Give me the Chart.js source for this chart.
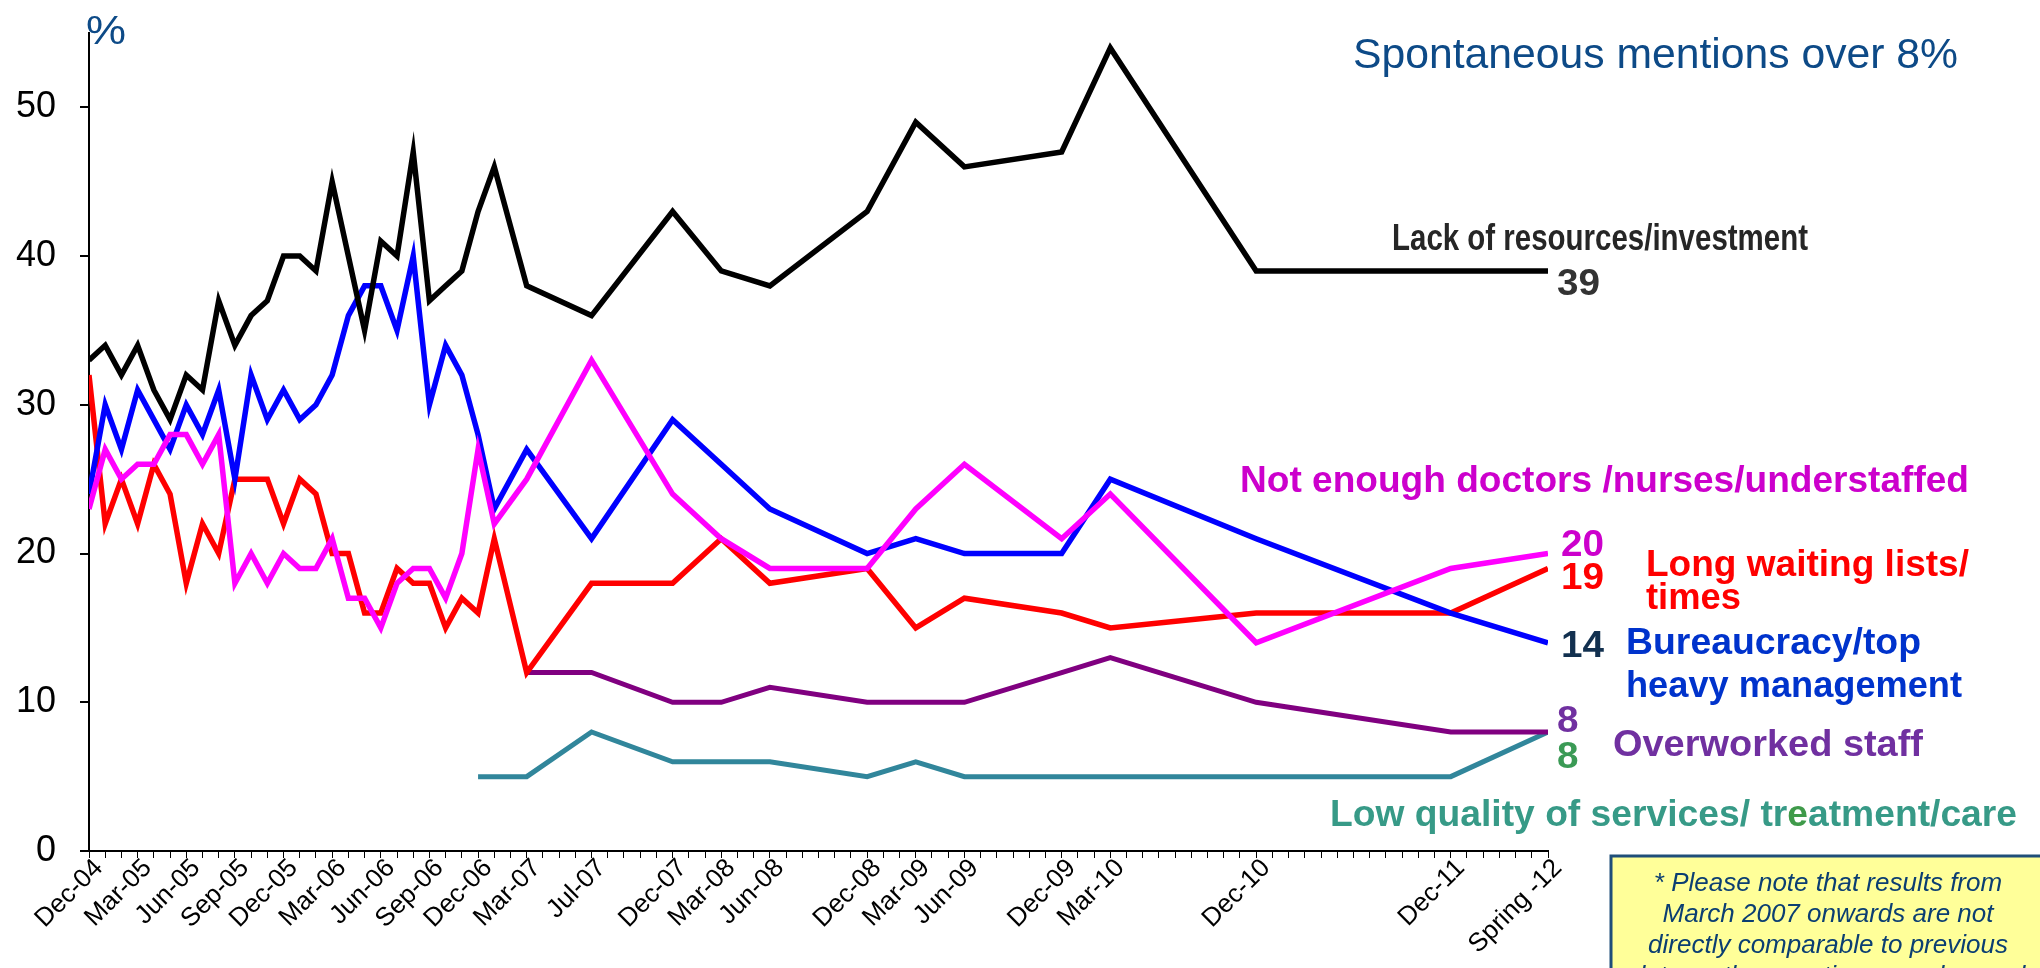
<!DOCTYPE html>
<html>
<head>
<meta charset="utf-8">
<script src="https://cdn.jsdelivr.net/npm/chart.js@4.4.1/dist/chart.umd.min.js"></script>
<style>
  html, body { margin: 0; padding: 0; background: #fff; }
  #wrap { position: relative; width: 2040px; height: 968px; }
</style>
</head>
<body>
<div id="wrap"><canvas id="issuesChart"></canvas></div>
<script>
// survey waves, counted in months from December 2004
const waveMonths = [0, 1, 2, 3, 4, 5, 6, 7, 8, 9, 10, 11, 12, 13, 14, 15, 16, 17, 18, 19, 20, 21, 22, 23, 24, 25,
  27, 31, 36, 39, 42, 48, 51, 54, 60, 63, 72, 84, 90];

// months that get a label on the x axis
const axisMonths = [0, 3, 6, 9, 12, 15, 18, 21, 24, 27, 31, 36, 39, 42, 48, 51, 54, 60, 63, 72, 84, 90];
const axisLabels = ['Dec-04', 'Mar-05', 'Jun-05', 'Sep-05', 'Dec-05', 'Mar-06', 'Jun-06', 'Sep-06', 'Dec-06',
  'Mar-07', 'Jul-07', 'Dec-07', 'Mar-08', 'Jun-08', 'Dec-08', 'Mar-09', 'Jun-09', 'Dec-09', 'Mar-10',
  'Dec-10', 'Dec-11', 'Spring -12'];

const yTicks = [0, 10, 20, 30, 40, 50];

// % mentioning each issue, one value per wave
const lackOfResources = [33, 34, 32, 34, 31, 29, 32, 31, 37, 34, 36, 37, 40, 40, 39, 45, 40, 35, 41, 40, 47, 37, 38, 39, 43, 46,
  38, 36, 43, 39, 38, 43, 49, 46, 47, 54, 39, 39, 39];
const notEnoughStaff = [23, 27, 25, 26, 26, 28, 28, 26, 28, 18, 20, 18, 20, 19, 19, 21, 17, 17, 15, 18, 19, 19, 17, 20, 27, 22,
  25, 33, 24, 21, 19, 19, 23, 26, 21, 24, 14, 19, 20];
const bureaucracy = [24, 30, 27, 31, 29, 27, 30, 28, 31, 25, 32, 29, 31, 29, 30, 32, 36, 38, 38, 35, 40, 30, 34, 32, 28, 23,
  27, 21, 29, 26, 23, 20, 21, 20, 20, 25, 21, 16, 14];
const waitingLists = [32, 22, 25, 22, 26, 24, 18, 22, 20, 25, 25, 25, 22, 25, 24, 20, 20, 16, 16, 19, 18, 18, 15, 17, 16, 21,
  12, 18, 18, 21, 18, 19, 15, 17, 16, 15, 16, 16, 19];
const overworked = [null, null, null, null, null, null, null, null, null, null, null, null, null, null, null, null, null, null,
  null, null, null, null, null, null, null, null,
  12, 12, 10, 10, 11, 10, 10, 10, 12, 13, 10, 8, 8];
const lowQuality = [null, null, null, null, null, null, null, null, null, null, null, null, null, null, null, null, null, null,
  null, null, null, null, null, null, 5, null,
  5, 8, 6, 6, 6, 5, 6, 5, 5, 5, 5, 5, 8];

const toPoints = values => values.map((v, i) => ({ x: waveMonths[i], y: v }));

const FONT = '"Liberation Sans", Arial, sans-serif';
const NARROW = '"Liberation Sans Narrow", "Liberation Sans", Arial, sans-serif';

const series = [
  { data: lackOfResources, color: '#000000', width: 5.5, num: '#333333', dx: 9, dy: 24 },
  { data: notEnoughStaff, color: '#ff00ff', width: 5.5, num: '#cc00cc', dx: 13, dy: 2 },
  { data: bureaucracy, color: '#0000ff', width: 5.5, num: '#12304f', dx: 13, dy: 14 },
  { data: waitingLists, color: '#ff0000', width: 5.5, num: '#ff0000', dx: 13, dy: 21 },
  { data: overworked, color: '#800080', width: 5, num: '#7030a0', dx: 9, dy: 0 },
  { data: lowQuality, color: '#31869b', width: 5, num: '#3a9a55', dx: 9, dy: 36 }
];

// draw a run of coloured pieces squeezed to a given width
function fitText(ctx, parts, x, y, font, width) {
  ctx.save();
  ctx.font = font;
  ctx.textBaseline = 'alphabetic';
  ctx.textAlign = 'left';
  const whole = parts.map(p => p[0]).join('');
  const sx = width ? width / ctx.measureText(whole).width : 1;
  ctx.translate(x, y);
  ctx.scale(sx, 1);
  let cx = 0;
  parts.forEach(([t, c]) => {
    ctx.fillStyle = c;
    ctx.fillText(t, cx, 0);
    cx += ctx.measureText(t).width;
  });
  ctx.restore();
}

const textLayer = {
  id: 'textLayer',
  afterDraw(chart) {
    const { ctx } = chart;
    const xs = chart.scales.x, ys = chart.scales.y;

    fitText(ctx, [['%', '#0d4a87']], 86, 44, '40px ' + FONT, 40);
    fitText(ctx, [['Spontaneous mentions over 8%', '#0d4a87']], 1353, 68, '42px ' + FONT, 605);

    const bold = 'bold 36px ' + NARROW;
    fitText(ctx, [['Lack of resources/investment', '#262626']], 1392, 250, bold, 416);
    fitText(ctx, [['Not enough doctors /nurses/understaffed', '#cc00cc']], 1240, 492, bold, 729);
    fitText(ctx, [['Long waiting lists/', '#ff0000']], 1646, 576, bold, 323);
    fitText(ctx, [['times', '#ff0000']], 1646, 609, bold, 95);
    fitText(ctx, [['Bureaucracy/top', '#0033cc']], 1626, 654, bold, 295);
    fitText(ctx, [['heavy management', '#0033cc']], 1626, 697, bold, 336);
    fitText(ctx, [['Overworked staff', '#7030a0']], 1613, 756, bold, 310);
    fitText(ctx, [['Low quality of services/ tr', '#379a87'], ['e', '#3f9a4a'], ['atment/care', '#379a87']],
      1330, 826, bold, 687);

    // end-of-line values
    series.forEach(s => {
      const last = s.data[s.data.length - 1];
      const px = xs.getPixelForValue(waveMonths[waveMonths.length - 1]) + s.dx;
      const py = ys.getPixelForValue(last) + s.dy;
      const txt = String(last);
      fitText(ctx, [[txt, s.num]], px, py, bold, txt.length * 21.5);
    });

    // footnote box
    ctx.save();
    ctx.fillStyle = '#ffff99';
    ctx.fillRect(1611, 856, 470, 140);
    ctx.strokeStyle = '#1f4e79';
    ctx.lineWidth = 3;
    ctx.strokeRect(1611, 856, 470, 140);
    ctx.fillStyle = '#0b3e72';
    ctx.font = 'italic 26px ' + FONT;
    ctx.textAlign = 'center';
    ctx.textBaseline = 'alphabetic';
    ['* Please note that results from', 'March 2007 onwards are not', 'directly comparable to previous',
      'data as the question was changed'].forEach((line, i) => {
      ctx.fillText(line, 1828, 891 + i * 31);
    });
    ctx.restore();
  }
};

new Chart(document.getElementById('issuesChart'), {
  type: 'line',
  data: {
    datasets: series.map(s => ({
      data: toPoints(s.data),
      borderColor: s.color,
      backgroundColor: s.color,
      borderWidth: s.width,
      pointRadius: 0,
      tension: 0,
      spanGaps: true,
      fill: false
    }))
  },
  options: {
    responsive: true,
    maintainAspectRatio: false,
    animation: false,
    layout: { padding: { left: 0, top: 33, right: 492, bottom: 0 } },
    plugins: { legend: { display: false }, tooltip: { enabled: false } },
    scales: {
      x: {
        type: 'linear',
        min: 0,
        max: 90,
        afterBuildTicks: s => {
          const t = [];
          for (let m = 0; m <= 90; m++) t.push({ value: m });
          s.ticks = t;
        },
        afterFit: s => { s.height = 117; },
        border: { color: '#000', width: 2 },
        grid: { drawOnChartArea: false, drawTicks: true, tickLength: 7, color: '#000', lineWidth: 1 },
        ticks: {
          autoSkip: false,
          maxRotation: 45,
          minRotation: 45,
          padding: -5,
          labelOffset: 10,
          color: '#000',
          font: { family: FONT, size: 26 },
          callback: v => {
            const i = axisMonths.indexOf(v);
            return i < 0 ? '' : axisLabels[i];
          }
        }
      },
      y: {
        min: 0,
        max: 55,
        afterBuildTicks: s => { s.ticks = yTicks.map(v => ({ value: v })); },
        afterFit: s => {
          s.width = 89;
          // keep the plot top at the layout padding
          s.paddingTop = 0;
          s.paddingBottom = 0;
        },
        border: { color: '#000', width: 2 },
        grid: { drawOnChartArea: false, drawTicks: true, tickLength: 9, color: '#000', lineWidth: 2 },
        ticks: { padding: 24, color: '#000', font: { family: FONT, size: 36 } }
      }
    }
  },
  plugins: [textLayer]
});
</script>
</body>
</html>
